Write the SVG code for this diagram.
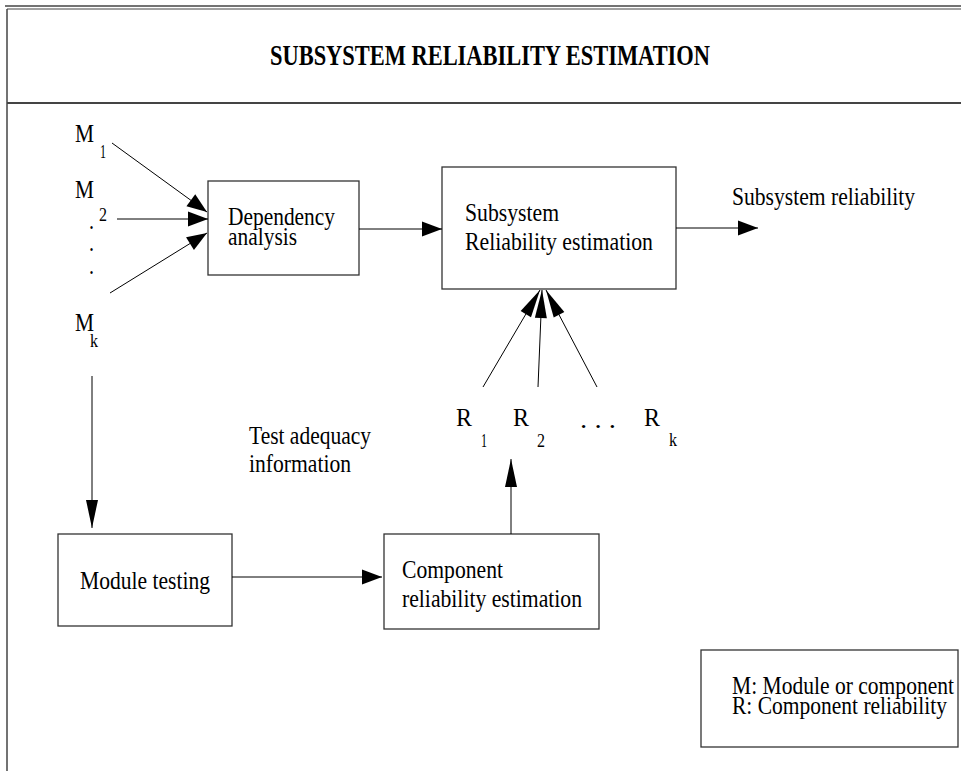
<svg xmlns="http://www.w3.org/2000/svg" width="961" height="771" viewBox="0 0 961 771">
<style>
  text { font-family: "Liberation Serif", "Times New Roman", serif; font-size: 26px; fill: #000; }
  .title { font-weight: bold; font-size: 30px; }
  .sub { font-size: 18px; }
  .box { fill: #fff; stroke: #333; stroke-width: 1.3; }
  .frame { stroke: #444; fill: none; }
  .conn line { stroke: #000; stroke-width: 1; }
  .h { marker-end: url(#ah); }
  .v { marker-end: url(#av); }
</style>
<defs>
  <marker id="ah" markerUnits="userSpaceOnUse" markerWidth="20" markerHeight="15" refX="20" refY="7.5" orient="auto" overflow="visible">
    <path d="M0,0 L20,7.5 L0,15 z" fill="#000"/>
  </marker>
  <marker id="av" markerUnits="userSpaceOnUse" markerWidth="28" markerHeight="12" refX="28" refY="6" orient="auto" overflow="visible">
    <path d="M0,0 L28,6 L0,12 z" fill="#000"/>
  </marker>
</defs>
<rect x="0" y="0" width="961" height="771" fill="#fff"/>

<g id="frame">
  <line class="frame" x1="5" y1="6" x2="961" y2="6" stroke-width="1.6"/>
  <line class="frame" x1="7" y1="9" x2="961" y2="9" stroke-width="1.2" stroke="#777"/>
  <line class="frame" x1="7" y1="9" x2="7" y2="771" stroke-width="1.5"/>
  <line class="frame" x1="7" y1="103" x2="961" y2="103" stroke-width="1.8"/>
</g>

<g id="title">
  <text class="title" x="270" y="65" textLength="440" lengthAdjust="spacingAndGlyphs">SUBSYSTEM RELIABILITY ESTIMATION</text>
</g>

<g id="inputs-m">
  <text x="75" y="142" textLength="19" lengthAdjust="spacingAndGlyphs">M</text>
  <text class="sub" x="100" y="158" textLength="6" lengthAdjust="spacingAndGlyphs">1</text>
  <text x="75" y="198" textLength="19" lengthAdjust="spacingAndGlyphs">M</text>
  <text class="sub" x="99" y="221" textLength="8" lengthAdjust="spacingAndGlyphs">2</text>
  <text x="89" y="229" textLength="5" lengthAdjust="spacingAndGlyphs">.</text>
  <text x="89" y="251" textLength="5" lengthAdjust="spacingAndGlyphs">.</text>
  <text x="89" y="274" textLength="5" lengthAdjust="spacingAndGlyphs">.</text>
  <text x="75" y="331" textLength="19" lengthAdjust="spacingAndGlyphs">M</text>
  <text class="sub" x="90" y="347" textLength="8" lengthAdjust="spacingAndGlyphs">k</text>
</g>

<g id="dependency-analysis">
  <rect class="box" x="208" y="181" width="151" height="94"/>
  <text x="228" y="225" textLength="107" lengthAdjust="spacingAndGlyphs">Dependency</text>
  <text x="228" y="245" textLength="69" lengthAdjust="spacingAndGlyphs">analysis</text>
</g>

<g id="subsystem-estimation">
  <rect class="box" x="442" y="167" width="234" height="122"/>
  <text x="465" y="221" textLength="94" lengthAdjust="spacingAndGlyphs">Subsystem</text>
  <text x="465" y="250" textLength="188" lengthAdjust="spacingAndGlyphs">Reliability estimation</text>
</g>

<g id="subsystem-reliability">
  <text x="732" y="205" textLength="183" lengthAdjust="spacingAndGlyphs">Subsystem reliability</text>
</g>

<g id="r-values">
  <text x="456" y="426" textLength="16" lengthAdjust="spacingAndGlyphs">R</text>
  <text class="sub" x="481" y="447" textLength="6" lengthAdjust="spacingAndGlyphs">1</text>
  <text x="513" y="426" textLength="16" lengthAdjust="spacingAndGlyphs">R</text>
  <text class="sub" x="537" y="447" textLength="8" lengthAdjust="spacingAndGlyphs">2</text>
  <text x="580" y="428" textLength="36" lengthAdjust="spacingAndGlyphs">. . .</text>
  <text x="644" y="426" textLength="16" lengthAdjust="spacingAndGlyphs">R</text>
  <text class="sub" x="669" y="446" textLength="8" lengthAdjust="spacingAndGlyphs">k</text>
</g>

<g id="test-adequacy">
  <text x="249" y="444" textLength="122" lengthAdjust="spacingAndGlyphs">Test adequacy</text>
  <text x="249" y="472" textLength="102" lengthAdjust="spacingAndGlyphs">information</text>
</g>

<g id="module-testing">
  <rect class="box" x="58" y="534" width="174" height="92"/>
  <text x="80" y="589" textLength="130" lengthAdjust="spacingAndGlyphs">Module testing</text>
</g>

<g id="component-estimation">
  <rect class="box" x="384" y="534" width="215" height="95"/>
  <text x="402" y="578" textLength="101" lengthAdjust="spacingAndGlyphs">Component</text>
  <text x="402" y="607" textLength="180" lengthAdjust="spacingAndGlyphs">reliability estimation</text>
</g>

<g id="legend">
  <rect class="box" x="701" y="650" width="257" height="97"/>
  <text x="732" y="694" textLength="222" lengthAdjust="spacingAndGlyphs">M: Module or component</text>
  <text x="732" y="714" textLength="215" lengthAdjust="spacingAndGlyphs">R: Component reliability</text>
</g>

<g id="connectors" class="conn">
  <line class="h" x1="112" y1="143" x2="207" y2="212"/>
  <line class="h" x1="117" y1="219" x2="208" y2="219"/>
  <line class="h" x1="110" y1="293" x2="207" y2="233"/>
  <line class="h" x1="359" y1="229" x2="442" y2="229"/>
  <line class="h" x1="676" y1="228" x2="758" y2="228"/>
  <line class="v" x1="483" y1="387" x2="540" y2="290"/>
  <line class="v" x1="538" y1="387" x2="542" y2="290"/>
  <line class="v" x1="597" y1="387" x2="546" y2="290"/>
  <line class="v" x1="92" y1="376" x2="92" y2="528"/>
  <line class="h" x1="232" y1="577" x2="382" y2="577"/>
  <line class="v" x1="511" y1="534" x2="511" y2="459"/>
</g>
</svg>
